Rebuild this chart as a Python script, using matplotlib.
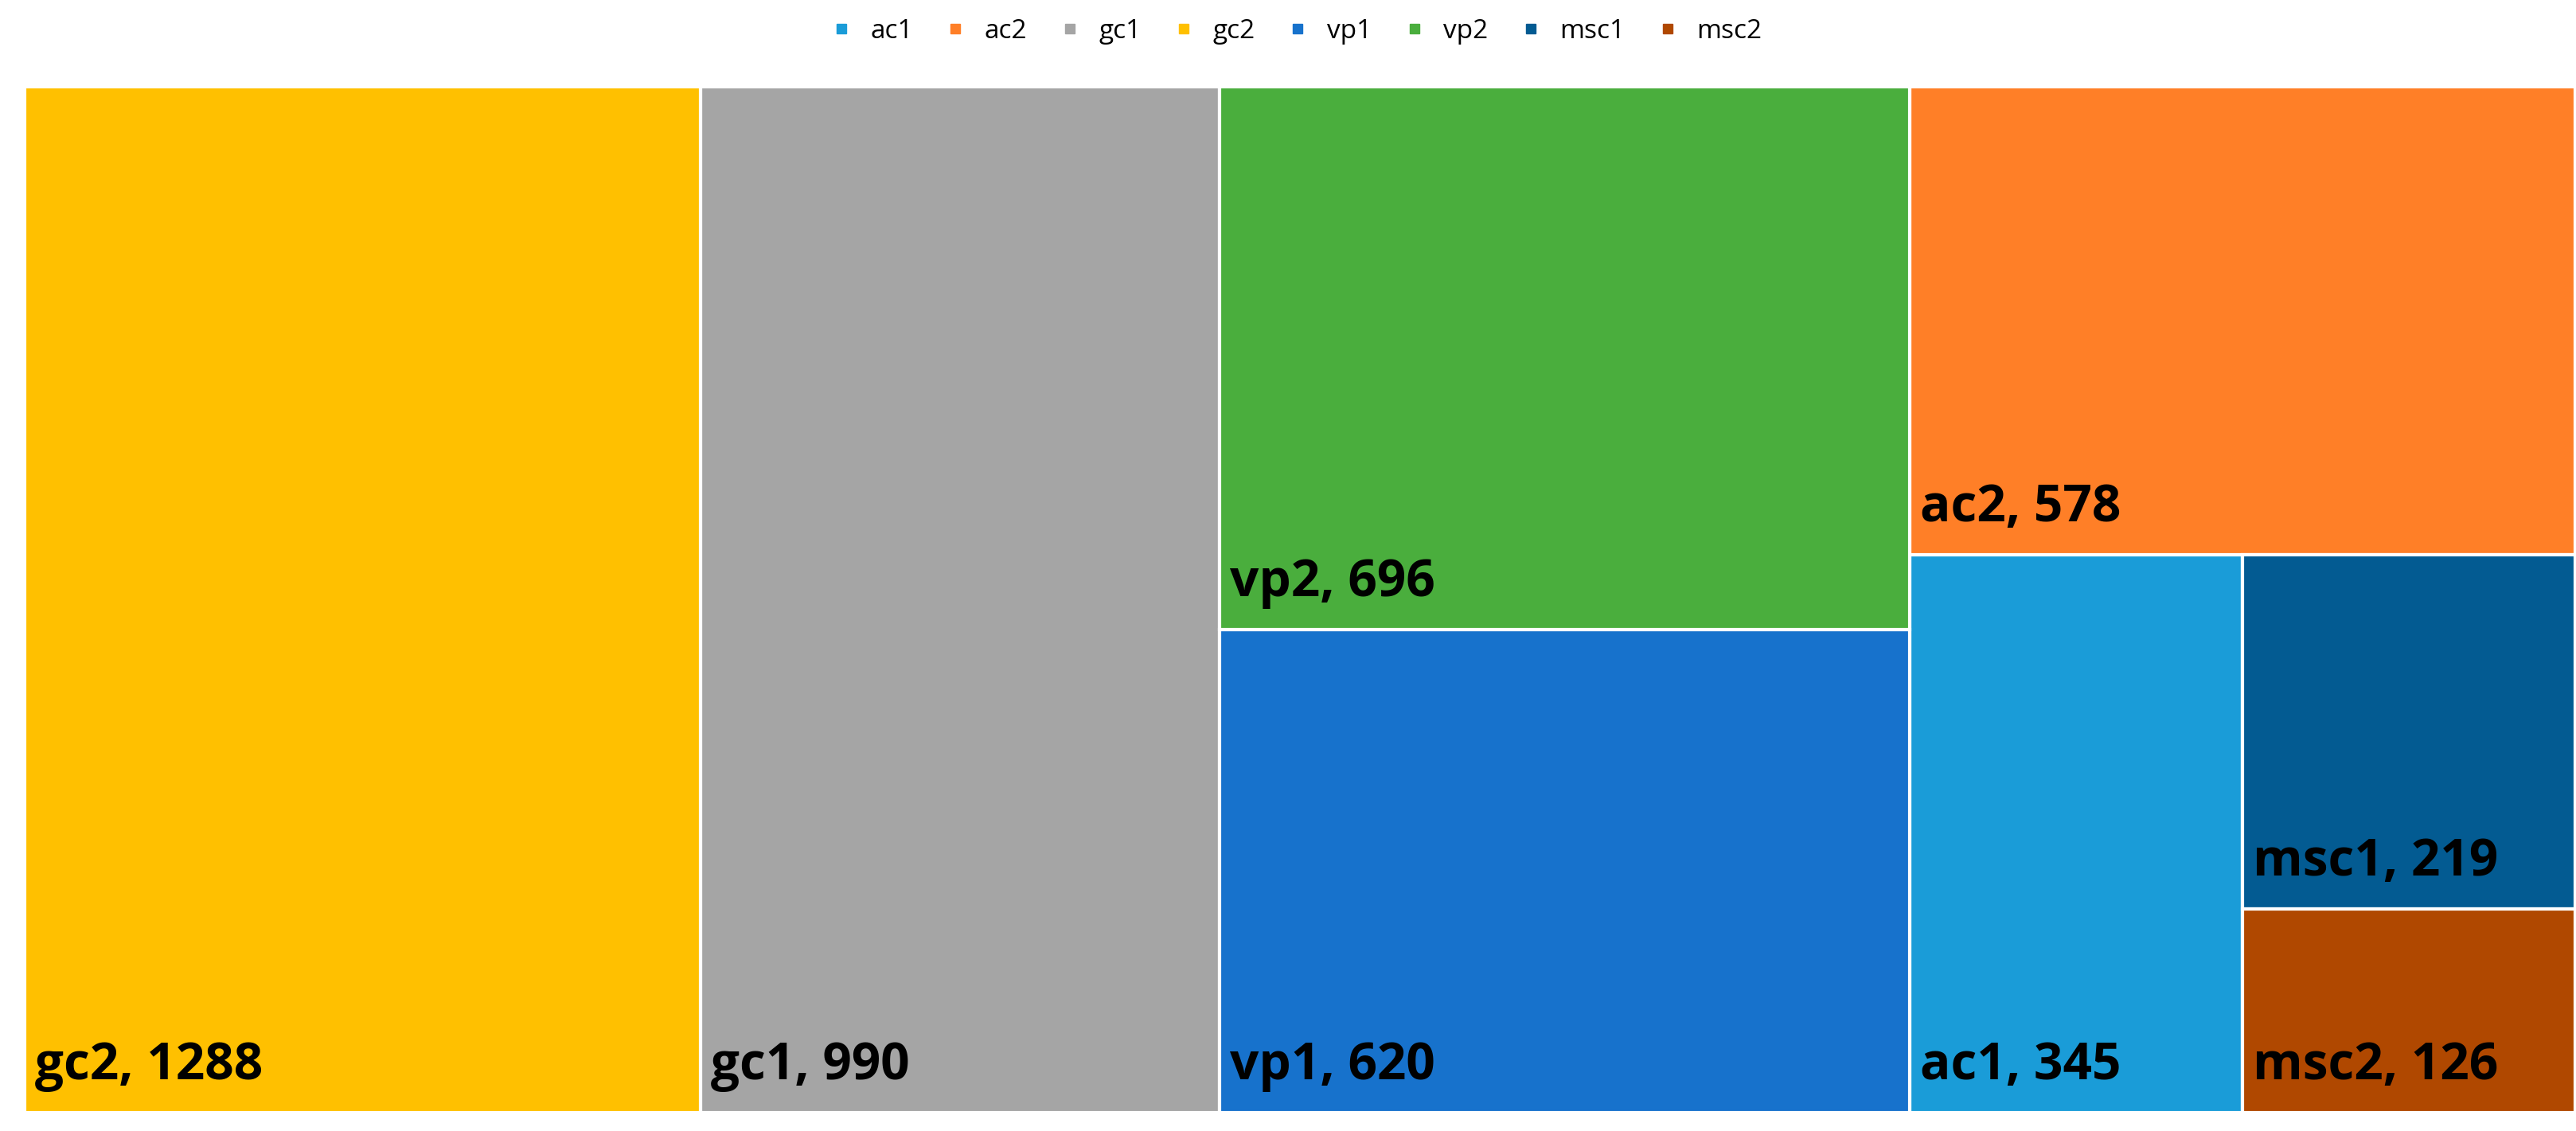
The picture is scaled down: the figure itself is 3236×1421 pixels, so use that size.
import matplotlib
matplotlib.use("Agg")
import matplotlib.pyplot as plt
from matplotlib.patches import Rectangle
from matplotlib.lines import Line2D

categories = ["ac1", "ac2", "gc1", "gc2", "vp1", "vp2", "msc1", "msc2"]
values = [345, 578, 990, 1288, 620, 696, 219, 126]
colors = ["#1A9CD8", "#FF7F27", "#A5A5A5", "#FFC000", "#1772CC", "#4AAE3D", "#035B92", "#B04800"]
val = dict(zip(categories, values))
col = dict(zip(categories, colors))

# nested layout: ('h' = side by side, 'v' = stacked top to bottom)
layout = ("h", ["gc2", "gc1", ("v", ["vp2", "vp1"]),
                ("v", ["ac2", ("h", ["ac1", ("v", ["msc1", "msc2"])])])])

def total(node):
    if isinstance(node, str):
        return val[node]
    return sum(total(c) for c in node[1])

rects = {}
def place(node, x, y, w, h):
    if isinstance(node, str):
        rects[node] = (x, y, w, h)
        return
    d, kids = node
    T = total(node)
    if d == "h":
        cx = x
        for k in kids:
            kw = w * total(k) / T
            place(k, cx, y, kw, h)
            cx += kw
    else:
        cy = y + h
        for k in kids:
            kh = h * total(k) / T
            place(k, x, cy - kh, w, kh)
            cy -= kh

place(layout, 0, 0, 1, 1)

fig = plt.figure(figsize=(32.37, 14.21), dpi=100)
ax = fig.add_axes([0.0096, 0.016, 0.9898, 0.907])
ax.set_xlim(0, 1); ax.set_ylim(0, 1); ax.axis("off")
for c in categories:
    x, y, w, h = rects[c]
    ax.add_patch(Rectangle((x, y), w, h, facecolor=col[c], edgecolor="white", linewidth=3))
    ax.text(x + 0.004, y + 0.02, f"{c}, {val[c]}", fontsize=46, fontweight="bold",
            family="Open Sans", color="black", ha="left", va="bottom")

handles = [Line2D([], [], marker="s", linestyle="", color=col[c], markersize=9) for c in categories]
fig.legend(handles, categories, loc="upper center", bbox_to_anchor=(0.5, 1.005), ncol=8,
           frameon=False, fontsize=24, handletextpad=0.1, columnspacing=0.6,
           prop={"family": "Open Sans", "size": 24})
fig.savefig("out.png", dpi=100, facecolor="white")
